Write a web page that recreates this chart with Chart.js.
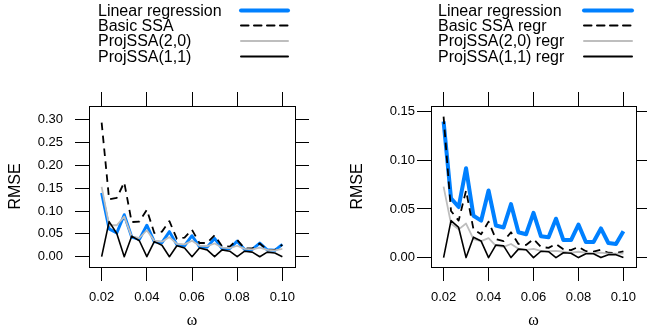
<!DOCTYPE html>
<html>
<head>
<meta charset="utf-8">
<script src="https://cdn.jsdelivr.net/npm/chart.js@4.4.1/dist/chart.umd.min.js"></script>
<style>
  body { margin: 0; background: #ffffff; }
  #wrap { position: relative; width: 647px; height: 335px; }
  canvas { position: absolute; top: 0; }
  #leftChart { left: 0; }
  #rightChart { left: 323px; }
</style>
</head>
<body>
<div id="wrap">
  <canvas id="leftChart" width="323" height="335"></canvas>
  <canvas id="rightChart" width="324" height="335"></canvas>
</div>
<script>
// omega grid (x values)
const omega = [0.0200, 0.0233, 0.0267, 0.0300, 0.0333, 0.0367, 0.0400, 0.0433, 0.0467, 0.0500,
               0.0533, 0.0567, 0.0600, 0.0633, 0.0667, 0.0700, 0.0733, 0.0767, 0.0800, 0.0833,
               0.0867, 0.0900, 0.0933, 0.0967, 0.1000];
const xTicks = [0.02, 0.04, 0.06, 0.08, 0.10];
const leftYTicks = [0.00, 0.05, 0.10, 0.15, 0.20, 0.25, 0.30];
const rightYTicks = [0.00, 0.05, 0.10, 0.15];

const leftLabels = ['Linear regression', 'Basic SSA', 'ProjSSA(2,0)', 'ProjSSA(1,1)'];
const rightLabels = ['Linear regression', 'Basic SSA regr', 'ProjSSA(2,0) regr', 'ProjSSA(1,1) regr'];

// left panel
const linReg = [0.140, 0.061, 0.052, 0.092, 0.043, 0.038, 0.069, 0.033, 0.031, 0.055,
                0.026, 0.024, 0.046, 0.022, 0.021, 0.040, 0.018, 0.018, 0.034, 0.016,
                0.016, 0.030, 0.015, 0.014, 0.027];
const basicSSA = [0.294, 0.126, 0.129, 0.163, 0.076, 0.077, 0.103, 0.052, 0.055, 0.078,
                  0.039, 0.042, 0.059, 0.030, 0.030, 0.047, 0.023, 0.022, 0.037, 0.018,
                  0.018, 0.029, 0.015, 0.015, 0.026];
const projSSA20 = [0.153, 0.069, 0.069, 0.088, 0.044, 0.041, 0.058, 0.035, 0.033, 0.043,
                   0.028, 0.027, 0.035, 0.024, 0.023, 0.029, 0.020, 0.019, 0.024, 0.017,
                   0.016, 0.020, 0.015, 0.014, 0.017];
const projSSA11 = [0.000, 0.077, 0.051, 0.000, 0.045, 0.035, 0.000, 0.033, 0.025, 0.000,
                   0.024, 0.019, 0.000, 0.019, 0.015, 0.000, 0.015, 0.012, 0.000, 0.012,
                   0.010, 0.000, 0.010, 0.008, 0.000];

// right panel
const basicSSAregr = [0.145, 0.048, 0.038, 0.069, 0.029, 0.024, 0.037, 0.019, 0.017, 0.026,
                      0.014, 0.013, 0.019, 0.011, 0.010, 0.014, 0.0085, 0.0076, 0.011, 0.0065,
                      0.006, 0.008, 0.005, 0.0045, 0.0065];
const projSSA20regr = [0.073, 0.035, 0.029, 0.035, 0.019, 0.017, 0.020, 0.012, 0.011, 0.014,
                       0.009, 0.008, 0.009, 0.007, 0.0065, 0.007, 0.006, 0.005, 0.006, 0.005,
                       0.0045, 0.005, 0.004, 0.004, 0.004];
const projSSA11regr = [0.000, 0.038, 0.031, 0.000, 0.021, 0.017, 0.000, 0.013, 0.012, 0.000,
                       0.0087, 0.008, 0.000, 0.0065, 0.006, 0.000, 0.005, 0.0045, 0.000, 0.004,
                       0.004, 0.000, 0.003, 0.003, 0.000];

const BLUE = '#0080ff';
const GREY = '#bebebe';
const DASH = [7.5, 5.5];
const SANS = "'Liberation Sans', Arial, sans-serif";

// draws the lattice-style key above the panel
const keyLegend = {
    id: 'keyLegend',
    afterDraw(chart, args, opts) {
        const ctx = chart.ctx;
        ctx.save();
        ctx.font = '16px ' + SANS;
        ctx.textAlign = 'left';
        ctx.textBaseline = 'middle';
        opts.items.forEach((item, i) => {
            const y = opts.rows[i];
            ctx.fillStyle = '#000';
            ctx.fillText(item.label, opts.textX, y + 1);
            ctx.beginPath();
            ctx.strokeStyle = item.color;
            ctx.lineWidth = item.width;
            ctx.lineCap = 'round';
            ctx.setLineDash(item.dash || []);
            ctx.moveTo(opts.lineX1, y);
            ctx.lineTo(opts.lineX2, y);
            ctx.stroke();
        });
        ctx.restore();
    }
};

function series(values) {
    return omega.map((x, i) => ({ x: x, y: values[i] }));
}

function fixedTicks(list) {
    return scale => { scale.ticks = list.map(v => ({ value: v })); };
}

function makePanel(id, cfg) {
    const ctx = document.getElementById(id).getContext('2d');
    const sets = [
        { label: cfg.labels[0], data: series(cfg.values[0]), borderColor: BLUE, borderWidth: cfg.blueWidth, order: 4 },
        { label: cfg.labels[1], data: series(cfg.values[1]), borderColor: '#000', borderWidth: 1.8, borderDash: DASH, order: 3 },
        { label: cfg.labels[2], data: series(cfg.values[2]), borderColor: GREY, borderWidth: 1.8, order: 2 },
        { label: cfg.labels[3], data: series(cfg.values[3]), borderColor: '#000', borderWidth: 1.6, order: 1 }
    ];
    sets.forEach(s => {
        s.pointRadius = 0;
        s.tension = 0;
        s.fill = false;
        s.borderJoinStyle = 'round';
    });

    const edge = {
        grid: { drawOnChartArea: false, drawTicks: true, tickLength: 14, tickColor: '#000', tickWidth: 1 },
        border: { display: true, color: '#000', width: 1 }
    };

    return new Chart(ctx, {
        type: 'line',
        data: { datasets: sets },
        options: {
            responsive: false,
            animation: false,
            layout: { padding: 0 },
            plugins: {
                legend: { display: false },
                tooltip: { enabled: false },
                keyLegend: {
                    textX: cfg.textX, lineX1: cfg.lineX1, lineX2: cfg.lineX2,
                    rows: [10.5, 25.5, 41, 56.5],
                    items: [
                        { label: cfg.labels[0], color: BLUE, width: 4 },
                        { label: cfg.labels[1], color: '#000', width: 2, dash: DASH },
                        { label: cfg.labels[2], color: GREY, width: 2 },
                        { label: cfg.labels[3], color: '#000', width: 2 }
                    ]
                }
            },
            scales: {
                x: {
                    type: 'linear', position: 'bottom', min: 0.0144, max: 0.1056,
                    afterBuildTicks: fixedTicks(xTicks),
                    afterFit: s => { s.height = 335 - 267; },
                    ticks: { color: '#000', padding: 9, font: { size: 13, family: SANS }, callback: v => v.toFixed(2) },
                    title: { display: true, text: 'ω', color: '#000', font: { size: 16, family: "'Liberation Serif', serif" }, padding: { bottom: 5 } },
                    ...edge
                },
                x2: {
                    type: 'linear', position: 'top', min: 0.0144, max: 0.1056,
                    afterBuildTicks: fixedTicks(xTicks),
                    afterFit: s => { s.height = 106; },
                    ticks: { display: false },
                    ...edge
                },
                y: {
                    type: 'linear', position: 'left', min: cfg.yMin, max: cfg.yMax,
                    afterBuildTicks: fixedTicks(cfg.yTicks),
                    afterFit: s => { s.width = cfg.left; },
                    ticks: { color: '#000', padding: cfg.yPad, font: { size: 13, family: SANS }, callback: v => v.toFixed(2) },
                    title: { display: true, text: 'RMSE', color: '#000', font: { size: 16, family: SANS }, padding: { top: cfg.titlePad } },
                    ...edge
                },
                y2: {
                    type: 'linear', position: 'right', min: cfg.yMin, max: cfg.yMax,
                    afterBuildTicks: fixedTicks(cfg.yTicks),
                    afterFit: s => { s.width = cfg.right; },
                    ticks: { display: false },
                    ...edge
                }
            }
        },
        plugins: [keyLegend]
    });
}

makePanel('leftChart', {
    labels: leftLabels,
    values: [linReg, basicSSA, projSSA20, projSSA11],
    blueWidth: 3,
    yMin: -0.0226, yMax: 0.3305, yTicks: leftYTicks,
    left: 89, right: 323 - 295, yPad: 12, titlePad: 6,
    textX: 98, lineX1: 241, lineX2: 288
});

makePanel('rightChart', {
    labels: rightLabels,
    values: [linReg, basicSSAregr, projSSA20regr, projSSA11regr],
    blueWidth: 4,
    yMin: -0.0097, yMax: 0.156, yTicks: rightYTicks,
    left: 431 - 323, right: 324 - (636 - 323), yPad: 2, titlePad: 25,
    textX: 438 - 323, lineX1: 584 - 323, lineX2: 632 - 323
});
</script>
</body>
</html>
